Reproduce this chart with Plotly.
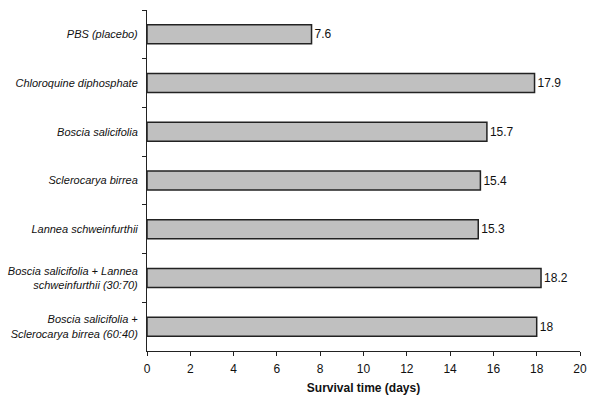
import plotly.graph_objects as go

categories = [
    "PBS (placebo)",
    "Chloroquine diphosphate",
    "Boscia salicifolia",
    "Sclerocarya birrea",
    "Lannea schweinfurthii",
    "Boscia salicifolia + Lannea<br>schweinfurthii (30:70)",
    "Boscia salicifolia +<br>Sclerocarya birrea (60:40)",
]
survival_days = [7.6, 17.9, 15.7, 15.4, 15.3, 18.2, 18]
value_labels = ["7.6", "17.9", "15.7", "15.4", "15.3", "18.2", "18"]
x_ticks = [0, 2, 4, 6, 8, 10, 12, 14, 16, 18, 20]

fig = go.Figure(go.Bar(
    y=categories,
    x=survival_days,
    orientation="h",
    marker=dict(color="#c0c0c0", line=dict(color="#222222", width=1.5)),
    text=value_labels,
    textposition="outside",
    textfont=dict(family="Arial, Liberation Sans, sans-serif", size=12, color="#111111"),
    cliponaxis=False,
))

fig.update_layout(
    width=600, height=410,
    margin=dict(l=147, r=20, t=10, b=59),
    paper_bgcolor="white", plot_bgcolor="white",
    bargap=0.61,
    showlegend=False,
    font=dict(family="Arial, Liberation Sans, sans-serif", color="#111111"),
)
fig.update_xaxes(
    range=[0, 20], tickvals=x_ticks, ticktext=[str(v) for v in x_ticks],
    showgrid=False, zeroline=False, automargin=False,
    showline=True, linecolor="#222222", linewidth=1,
    ticks="outside", ticklen=4, tickcolor="#222222",
    tickfont=dict(size=12, color="#111111"),
    ticklabelstandoff=3,
    title=dict(text="<b>Survival time (days)</b>", font=dict(size=12), standoff=8),
)
fig.update_yaxes(
    autorange="reversed", automargin=False,
    showgrid=False, zeroline=False,
    showline=True, linecolor="#222222", linewidth=1,
    ticks="outside", ticklen=4, tickcolor="#222222", tickson="boundaries",
    tickfont=dict(size=11, color="#111111", style="italic"),
    ticklabelstandoff=6,
)

fig.write_html("out.html", config={"displayModeBar": False},
               post_script="document.body.style.margin='0';")
